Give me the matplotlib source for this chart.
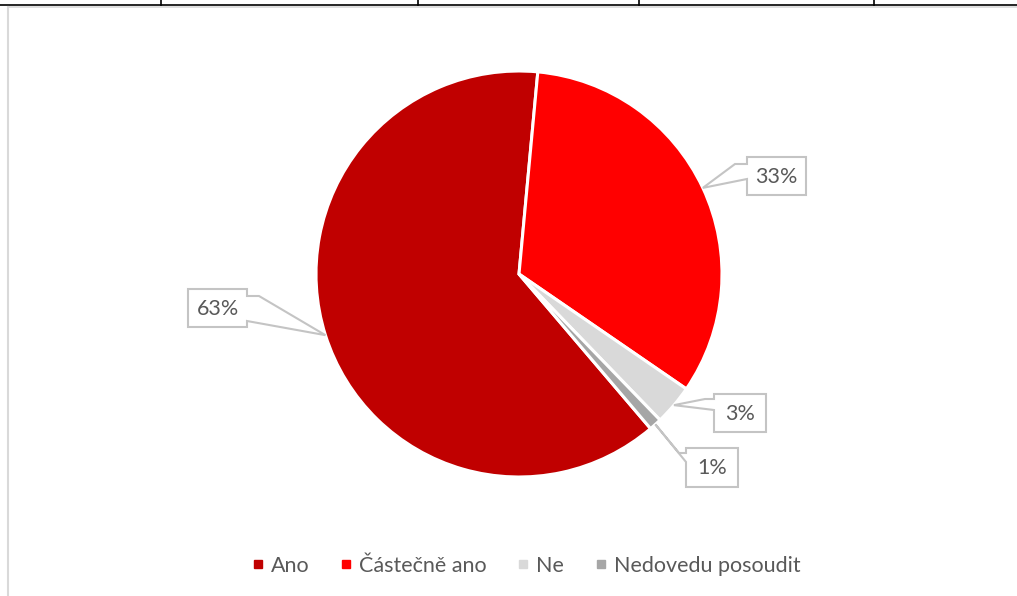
import numpy as np
import matplotlib
matplotlib.use("Agg")
import matplotlib.pyplot as plt
from matplotlib.lines import Line2D
from matplotlib.patches import Polygon

plt.rcParams['font.family'] = ['Lato', 'DejaVu Sans']

categories = ["Ano", "Částečně ano", "Ne", "Nedovedu posoudit"]
values = [62.7, 33.1, 3.2, 1.0]
colors = ["#C00000", "#FF0000", "#D9D9D9", "#A6A6A6"]
pct_labels = [f"{round(v)}%" for v in values]

W, H = 1017, 596
fig = plt.figure(figsize=(W / 100, H / 100), dpi=100)
ax = fig.add_axes([0, 0, 1, 1])

cx, cy, R = 519, 274, 203
start = 49.6  # data angle (y axis inverted -> clockwise on screen)
wedges, _ = ax.pie(values, colors=colors, startangle=start, counterclock=True,
                   center=(cx, cy), radius=R,
                   wedgeprops=dict(edgecolor="white", linewidth=2.2))

ax.set_xlim(0, W)
ax.set_ylim(H, 0)
ax.set_aspect('auto')
ax.axis('off')

# callout boxes: (x0, y0, x1, y1), side, base points (along box edge, then stub)
boxes = [
    ((188, 289, 247, 327), 'right', [(247, 321)], [(259, 296), (247, 296)]),
    ((747, 157, 806, 195), 'left', [(747, 179)], [(735, 164), (747, 164)]),
    ((714, 394, 766, 432), 'left', [(714, 410)], [(705, 399), (714, 399)]),
    ((686, 448, 738, 487), 'left', [(686, 462)], [(679, 453), (686, 453)]),
]

edge_col = "#C4C4C4"
for w, lab, (box, side, pre, post) in zip(wedges, pct_labels, boxes):
    mid = np.deg2rad((w.theta1 + w.theta2) / 2)
    tip = (cx + R * np.cos(mid), cy + R * np.sin(mid))
    x0, y0, x1, y1 = box
    if side == 'left':
        pts = [(x0, y0), (x1, y0), (x1, y1), (x0, y1)] + pre + [tip] + post
    else:
        pts = [(x1, y1), (x0, y1), (x0, y0), (x1, y0)] + post[::-1] + [tip] + pre
    poly = Polygon(pts, closed=True, facecolor="white", edgecolor=edge_col,
                   linewidth=1.5, zorder=5)
    ax.add_patch(poly)
    ax.text((x0 + x1) / 2, (y0 + y1) / 2 + 1, lab, ha='center', va='center',
            fontsize=15.5, color="#595959", zorder=6)

# top table remnants and chart border
ax.plot([0, W], [5, 5], color="black", lw=1.2, solid_capstyle='butt')
for xv in [161, 418, 639, 874]:
    ax.plot([xv, xv], [0, 5], color="black", lw=1.2)
ax.plot([8, W], [7, 7], color="#D9D9D9", lw=1.2)
ax.plot([8, 8], [7, H], color="#D9D9D9", lw=1.5)

handles = [Line2D([0], [0], marker='s', linestyle='none', markersize=6,
                  markerfacecolor=c, markeredgecolor=c) for c in colors]
fig.legend(handles, categories, loc='center', bbox_to_anchor=(525 / W, 1 - 565.5 / H),
           ncol=4, frameon=False, fontsize=15.5, labelcolor="#595959",
           handletextpad=0.2, columnspacing=1.3, handlelength=0.8)

fig.savefig("out.png", dpi=100)
